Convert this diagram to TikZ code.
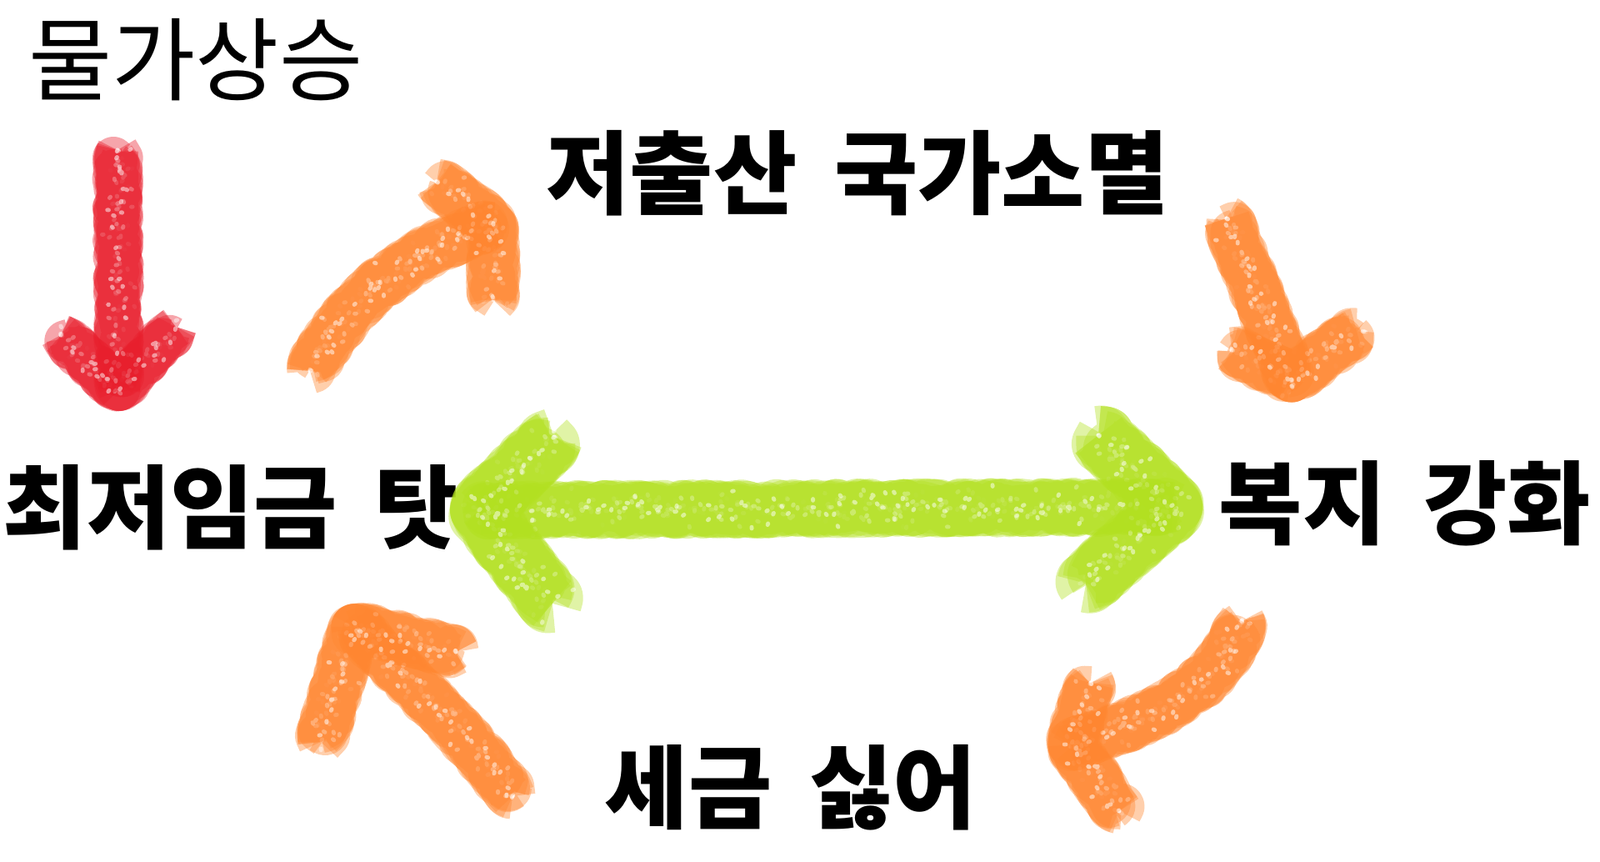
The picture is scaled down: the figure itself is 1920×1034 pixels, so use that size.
\documentclass[tikz,border=0pt]{standalone}
\usepackage{fontspec}
\newfontfamily\kr[WordSpace=1.8]{Noto Sans CJK KR}
\usetikzlibrary{decorations.pathmorphing}

\definecolor{crayonred}{HTML}{E81E2C}
\definecolor{crayonorange}{HTML}{FF8630}
\definecolor{crayongreen}{HTML}{B2E020}

\tikzset{
  speck/.style={draw=white, opacity=0.5, line width=1.4pt, line cap=round,
    dash pattern=on 0.5pt off 9pt, decorate,
    decoration={random steps, segment length=1.5pt, amplitude=#1}},
  crayon/.style={line width=#1, line cap=butt, line join=round, opacity=0.4,
    decorate, decoration={random steps, segment length=2pt, amplitude=1.6pt},
    postaction={speck=0.4*#1}},
  title/.style={font=\kr\bfseries\fontsize{31}{34}\selectfont, inner sep=0pt},
}

\begin{document}
\begin{tikzpicture}[x=0.01cm, y=-0.01cm]
  \useasboundingbox (0,0) rectangle (1920,1034);

  % Labels
  \node[font=\kr\fontsize{31}{34}\selectfont, inner sep=0pt] (price) at (235,72) {물가상승};
  \node[title] (birth) at (1029,208) {저출산 국가소멸};
  \node[title] (wage) at (277,609) {최저임금 탓};
  \node[title] (welfare) at (1686,604) {복지 강화};
  \node[title] (tax) at (949,945) {세금 싫어};

  % Arrow ends
  \coordinate (redTail) at (141,180);
  \coordinate (redTip) at (143,468);
  \coordinate (aTail) at (372,445);
  \coordinate (aTip) at (592,270);
  \coordinate (bTail) at (1472,262);
  \coordinate (bTip) at (1550,455);
  \coordinate (cTail) at (1490,745);
  \coordinate (cTip) at (1285,893);
  \coordinate (dTail) at (615,955);
  \coordinate (dTip) at (425,752);
  \coordinate (gLeft) at (575,612);
  \coordinate (gRight) at (1408,608);

  % Crayon strokes
  \foreach \pass in {1,...,5} {
    \draw[crayon=0.5cm, crayonred] (redTail) -- (redTip);
    \draw[crayon=0.5cm, crayonred] ([shift={(-70,-66)}]redTip) -- (redTip) -- ([shift={(68,-76)}]redTip);

    \draw[crayon=0.55cm, crayonorange] (aTail) .. controls (412,372) and (475,305) .. (aTip);
    \draw[crayon=0.55cm, crayonorange] ([shift={(-68,-52)}]aTip) -- (aTip) -- ([shift={(0,90)}]aTip);

    \draw[crayon=0.55cm, crayonorange] (bTail) -- (bTip);
    \draw[crayon=0.55cm, crayonorange] ([shift={(-72,-35)}]bTip) -- (bTip) -- ([shift={(78,-58)}]bTip);

    \draw[crayon=0.55cm, crayonorange] (cTail) .. controls (1468,820) and (1392,862) .. (cTip);
    \draw[crayon=0.55cm, crayonorange] ([shift={(24,-74)}]cTip) -- (cTip) -- ([shift={(58,80)}]cTip);

    \draw[crayon=0.55cm, crayonorange] (dTail) .. controls (560,880) and (490,815) .. (dTip);
    \draw[crayon=0.55cm, crayonorange] ([shift={(122,30)}]dTip) -- (dTip) -- ([shift={(-40,138)}]dTip);

    \draw[crayon=0.6cm, crayongreen] (gLeft) -- (gRight);
    \draw[crayon=0.7cm, crayongreen] ([shift={(90,-88)}]gLeft) -- (gLeft) -- ([shift={(88,112)}]gLeft);
    \draw[crayon=0.7cm, crayongreen] ([shift={(-90,-86)}]gRight) -- (gRight) -- ([shift={(-105,92)}]gRight);
  }
\end{tikzpicture}
\end{document}
